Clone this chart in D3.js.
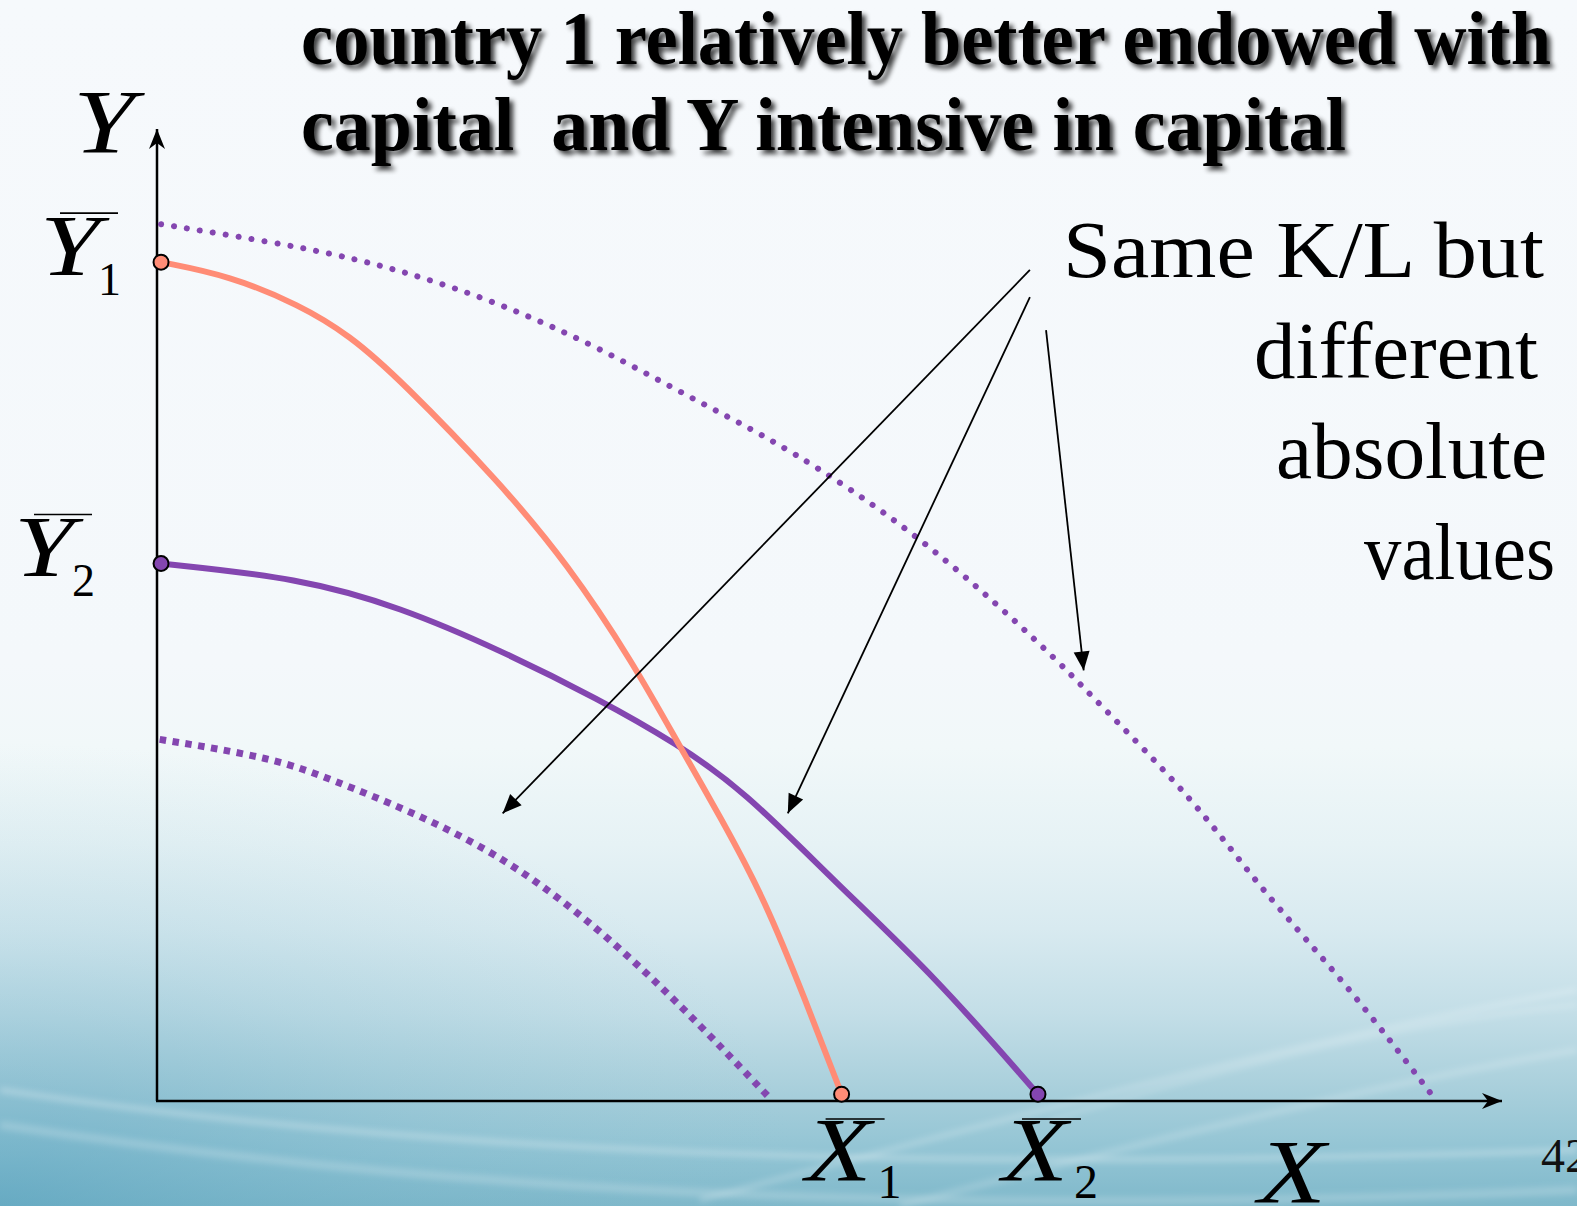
<!DOCTYPE html>
<html>
<head>
<meta charset="utf-8">
<script src="https://cdn.jsdelivr.net/npm/d3@7/dist/d3.min.js"></script>
<style>
  html, body { margin: 0; padding: 0; background: #f6f9fc; }
  svg { display: block; }
  text { white-space: pre; }
</style>
</head>
<body>
<svg id="chart" width="1577" height="1206"></svg>
<script>
// Production possibility frontiers, in output units (X on the horizontal, Y on the vertical axis)
const country1 = [[0.03, 8.63], [0.54, 8.49], [1.06, 8.19], [1.43, 7.88], [1.81, 7.42], [2.55, 6.36],
                  [3.05, 5.53], [3.54, 4.51], [3.89, 3.64], [4.19, 2.92], [4.52, 2.07], [4.82, 1.04],
                  [5.09, 0.07]];
const country2 = [[0.03, 5.53], [1.06, 5.38], [1.81, 5.08], [2.55, 4.64], [3.29, 4.13], [3.86, 3.68],
                  [4.36, 3.20], [5.05, 2.24], [5.78, 1.29], [6.55, 0.07]];
// Scaled-up and scaled-down versions of country 2's frontier (same K/L)
const country2Large = [[0.03, 9.02], [1.12, 8.78], [1.81, 8.55], [2.55, 8.21], [3.29, 7.75], [4.04, 7.18],
                       [4.67, 6.74], [5.67, 5.83], [6.62, 4.64], [6.96, 4.15], [7.73, 3.07], [8.18, 2.22],
                       [8.86, 1.18], [9.48, 0.06]];
const country2Small = [[0.02, 3.72], [0.87, 3.53], [1.31, 3.30], [1.87, 2.99], [2.53, 2.55], [3.19, 1.89],
                       [3.86, 1.04], [4.57, 0.01]];

// Endpoints of the two frontiers
const yEndpoints = [{ sub: "1", v: 8.63, color: "#ff8c76" }, { sub: "2", v: 5.53, color: "#8446b0" }];
const xEndpoints = [{ sub: "1", v: 5.09, color: "#ff8c76" }, { sub: "2", v: 6.55, color: "#8446b0" }];

// Annotation arrows: [from, to]
const pointers = [
  [[6.49, 8.55], [2.57, 2.96]],
  [[6.49, 8.27], [4.69, 2.96]],
  [[6.61, 7.93], [6.89, 4.43]]
];
const noteLines = ["Same K/L but", "different", "absolute", "values"];
const titleLines = ["country 1 relatively better endowed with", "capital  and Y intensive in capital"];

const W = 1577, H = 1206;
const svg = d3.select("#chart");
const x = d3.scaleLinear().domain([0, 10]).range([157, 1502]);
const y = d3.scaleLinear().domain([0, 10]).range([1101, 129]);

const defs = svg.append("defs");

// ---- slide background ----
const bg = defs.append("linearGradient").attr("id", "bg").attr("x1", 0).attr("y1", 0).attr("x2", 0).attr("y2", 1);
[[0, "#f6f9fc"], [0.55, "#f4f8fb"], [0.62, "#f1f8f9"], [0.7, "#e6f2f5"], [0.77, "#d8eaf0"],
 [0.84, "#c3dee7"], [0.9, "#aad0dc"], [0.96, "#90c3d3"], [1, "#7fb8ca"]]
  .forEach(([o, c]) => bg.append("stop").attr("offset", o).attr("stop-color", c));
const corner = defs.append("radialGradient").attr("id", "corner")
  .attr("gradientUnits", "userSpaceOnUse").attr("cx", 0).attr("cy", 1206).attr("r", 620)
  .attr("gradientTransform", "translate(0,1206) scale(1.3,0.75) translate(0,-1206)");
corner.append("stop").attr("offset", 0).attr("stop-color", "#4f9dbb").attr("stop-opacity", 0.5);
corner.append("stop").attr("offset", 0.55).attr("stop-color", "#6aaec6").attr("stop-opacity", 0.17);
corner.append("stop").attr("offset", 1).attr("stop-color", "#8cc0d0").attr("stop-opacity", 0);

defs.append("filter").attr("id", "soft").append("feGaussianBlur").attr("stdDeviation", 3);

svg.append("rect").attr("width", W).attr("height", H).attr("fill", "url(#bg)");
svg.append("rect").attr("width", W).attr("height", H).attr("fill", "url(#corner)");

// light streaks across the lower part
const streaks = [
  "M0,1090 C400,1150 900,1175 1577,1150",
  "M0,1125 C500,1200 1000,1215 1577,1190",
  "M700,1200 C1000,1120 1300,1040 1577,990",
  "M900,1206 C1150,1140 1400,1080 1577,1050",
  "M1050,1120 C1250,1060 1420,1020 1577,1005"
];
svg.append("g").attr("filter", "url(#soft)").selectAll("path").data(streaks).join("path")
  .attr("d", d => d).attr("fill", "none").attr("stroke", "#ffffff")
  .attr("stroke-opacity", (d, i) => [0.3, 0.2, 0.28, 0.2, 0.28][i])
  .attr("stroke-width", (d, i) => [5, 8, 4, 6, 3][i]);

// ---- markers ----
defs.append("marker").attr("id", "axisHead").attr("markerUnits", "userSpaceOnUse")
  .attr("viewBox", "-20 -10 22 20").attr("refX", 0).attr("refY", 0)
  .attr("markerWidth", 22).attr("markerHeight", 20).attr("orient", "auto")
  .append("path").attr("d", "M-20,-8 L0,0 L-20,8 L-14,0 Z").attr("fill", "#000");
defs.append("marker").attr("id", "tri").attr("markerUnits", "userSpaceOnUse")
  .attr("viewBox", "-20 -10 22 20").attr("refX", 0).attr("refY", 0)
  .attr("markerWidth", 22).attr("markerHeight", 20).attr("orient", "auto")
  .append("path").attr("d", "M-19,-8 L0,0 L-19,8 Z").attr("fill", "#000");

// ---- axes ----
svg.append("line").attr("x1", x(0)).attr("y1", y(0)).attr("x2", x(0)).attr("y2", y(10))
  .attr("stroke", "#000").attr("stroke-width", 2.5).attr("marker-end", "url(#axisHead)");
svg.append("line").attr("x1", x(0) - 1).attr("y1", y(0)).attr("x2", x(10)).attr("y2", y(0))
  .attr("stroke", "#000").attr("stroke-width", 2.5).attr("marker-end", "url(#axisHead)");

// ---- frontiers ----
const line = d3.line().x(d => x(d[0])).y(d => y(d[1])).curve(d3.curveBasis);

svg.append("path").datum(country2Large).attr("d", line).attr("fill", "none")
  .attr("stroke", "#8446b0").attr("stroke-width", 6).attr("stroke-linecap", "round")
  .attr("stroke-dasharray", "0.1 13");
svg.append("path").datum(country2Small).attr("d", line).attr("fill", "none")
  .attr("stroke", "#8446b0").attr("stroke-width", 7).attr("stroke-linecap", "butt")
  .attr("stroke-dasharray", "6.5 6.5");
svg.append("path").datum(country2).attr("d", line).attr("fill", "none")
  .attr("stroke", "#8446b0").attr("stroke-width", 6);
svg.append("path").datum(country1).attr("d", line).attr("fill", "none")
  .attr("stroke", "#ff8c76").attr("stroke-width", 6);

// endpoint dots
svg.selectAll("circle.ye").data(yEndpoints).join("circle").attr("class", "ye")
  .attr("cx", x(0.03)).attr("cy", d => y(d.v)).attr("r", 7.5)
  .attr("fill", d => d.color).attr("stroke", "#000").attr("stroke-width", 2);
svg.selectAll("circle.xe").data(xEndpoints).join("circle").attr("class", "xe")
  .attr("cx", d => x(d.v)).attr("cy", y(0.07)).attr("r", 7.5)
  .attr("fill", d => d.color).attr("stroke", "#000").attr("stroke-width", 2);

// ---- annotation arrows ----
svg.selectAll("line.ptr").data(pointers).join("line").attr("class", "ptr")
  .attr("x1", d => x(d[0][0])).attr("y1", d => y(d[0][1]))
  .attr("x2", d => x(d[1][0])).attr("y2", d => y(d[1][1]))
  .attr("stroke", "#000").attr("stroke-width", 1.8).attr("marker-end", "url(#tri)");

// ---- axis labels ----
const serif = "'Liberation Serif', 'Times New Roman', serif";
const ital = (sel, size, len) => sel.attr("font-family", serif).attr("font-style", "italic")
  .attr("font-size", size).attr("fill", "#000")
  .attr("textLength", len).attr("lengthAdjust", "spacingAndGlyphs");

ital(svg.append("text").attr("x", 73).attr("y", 153), 90, 62).text("Y");
ital(svg.append("text").attr("x", 1258).attr("y", 1203), 90, 68).text("X");

// Y-bar labels
const yLab = svg.selectAll("g.ylab").data(yEndpoints).join("g").attr("class", "ylab")
  .attr("transform", (d, i) => `translate(${i === 0 ? 40 : 14},${y(d.v) + 13})`);
ital(yLab.append("text").attr("x", 0).attr("y", 0), 86, 60).text("Y");
yLab.append("line").attr("x1", 20).attr("x2", 78).attr("y1", -62).attr("y2", -62)
  .attr("stroke", "#000").attr("stroke-width", 1.6);
yLab.append("text").attr("x", 58).attr("y", 20).attr("font-family", serif)
  .attr("font-size", 46).attr("fill", "#000").text(d => d.sub);

// X-bar labels
const xLab = svg.selectAll("g.xlab").data(xEndpoints).join("g").attr("class", "xlab")
  .attr("transform", d => `translate(${x(d.v) - 36},1181)`);
ital(xLab.append("text").attr("x", 0).attr("y", 0), 90, 66).text("X");
xLab.append("line").attr("x1", 20).attr("x2", 79).attr("y1", -62).attr("y2", -62)
  .attr("stroke", "#000").attr("stroke-width", 1.6);
xLab.append("text").attr("x", 72).attr("y", 17).attr("font-family", serif)
  .attr("font-size", 48).attr("fill", "#000").text(d => d.sub);

// ---- annotation text ----
const noteX = [1063, 1254, 1276, 1364];
const noteW = [481, 284, 271, 191];
svg.selectAll("text.note").data(noteLines).join("text").attr("class", "note")
  .attr("x", (d, i) => noteX[i]).attr("y", (d, i) => 277 + i * 100.5)
  .attr("font-family", serif).attr("font-size", 80).attr("fill", "#000")
  .attr("textLength", (d, i) => noteW[i]).attr("lengthAdjust", "spacingAndGlyphs")
  .text(d => d);

// ---- title with drop shadow ----
const sh = defs.append("filter").attr("id", "shadow").attr("x", "-5%").attr("y", "-30%")
  .attr("width", "110%").attr("height", "160%");
sh.append("feGaussianBlur").attr("in", "SourceAlpha").attr("stdDeviation", 2.5).attr("result", "b");
sh.append("feOffset").attr("in", "b").attr("dx", 4).attr("dy", 4).attr("result", "o");
sh.append("feComponentTransfer").attr("in", "o").attr("result", "s")
  .append("feFuncA").attr("type", "linear").attr("slope", 0.75);
const m = sh.append("feMerge");
m.append("feMergeNode").attr("in", "s");
m.append("feMergeNode").attr("in", "SourceGraphic");

const titleW = [1250, 1045];
svg.selectAll("text.title").data(titleLines).join("text").attr("class", "title")
  .attr("x", 301).attr("y", (d, i) => 64 + i * 86)
  .attr("font-family", serif).attr("font-weight", "bold").attr("font-size", 76).attr("fill", "#000")
  .attr("textLength", (d, i) => titleW[i]).attr("lengthAdjust", "spacingAndGlyphs")
  .attr("filter", "url(#shadow)")
  .text(d => d);

// slide number
svg.append("text").attr("x", 1541).attr("y", 1172).attr("font-family", serif)
  .attr("font-size", 48).attr("fill", "#111").text("42");
</script>
</body>
</html>
